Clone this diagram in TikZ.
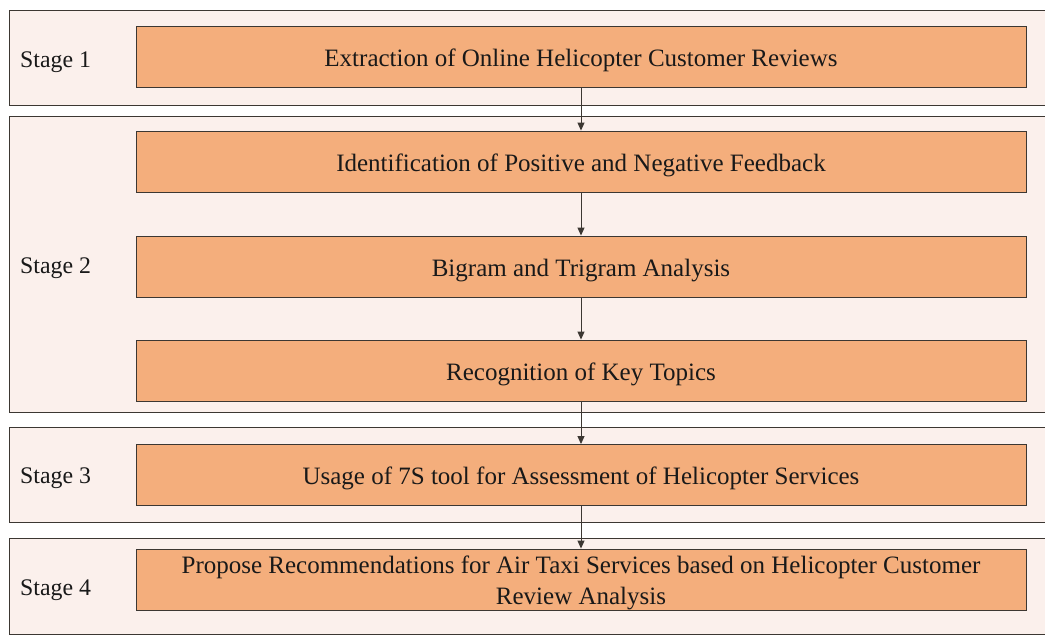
\documentclass[tikz,border=0pt]{standalone}
\usepackage{fontspec}
\setmainfont{Liberation Serif}
\usetikzlibrary{arrows.meta}
\definecolor{inner}{RGB}{244,174,124}
\definecolor{outer}{RGB}{251,240,236}
\definecolor{edge}{RGB}{60,55,50}
\newcommand{\lowtext}[1]{\raisebox{-9.5pt}[0pt][0pt]{#1}}
\begin{document}
\begin{tikzpicture}[x=1pt,y=-1pt,
  stagebox/.style={draw=edge,line width=1.1pt,fill=outer,inner sep=0pt,anchor=north west},
  procbox/.style={draw=edge,line width=0.9pt,fill=inner,inner sep=0pt,minimum width=890pt,minimum height=61pt,align=center,font=\fontsize{25}{31}\selectfont,text=black!90},
  stagelabel/.style={anchor=base west,inner sep=0pt,font=\fontsize{23.8}{28}\selectfont,text=black!90},
  flow/.style={draw=edge,line width=0.9pt,-{Triangle[length=8pt,width=7pt]}}]
\useasboundingbox (0,0) rectangle (1045,635);
\fill[white] (0,0) rectangle (1045,635);
\begin{scope}
\clip (0,0) rectangle (1045,635);
\node[stagebox,minimum width=1050pt,minimum height=95pt] (s1) at (9,10) {};
\node[stagebox,minimum width=1050pt,minimum height=296pt] (s2) at (9,116) {};
\node[stagebox,minimum width=1050pt,minimum height=95pt] (s3) at (9,427) {};
\node[stagebox,minimum width=1050pt,minimum height=96pt] (s4) at (9,538) {};
\end{scope}
\node[stagelabel] (l1) at (20,67) {Stage 1};
\node[stagelabel] (l2) at (20,273) {Stage 2};
\node[stagelabel] (l3) at (20,483) {Stage 3};
\node[stagelabel] (l4) at (20,595) {Stage 4};
\node[procbox] (b1) at (581,56.5) {\lowtext{Extraction of Online Helicopter Customer Reviews}};
\node[procbox] (b2) at (581,161.5) {\lowtext{Identification of Positive and Negative Feedback}};
\node[procbox] (b3) at (581,266.5) {\lowtext{Bigram and Trigram Analysis}};
\node[procbox] (b4) at (581,370.5) {\lowtext{Recognition of Key Topics}};
\node[procbox] (b5) at (581,475) {\lowtext{Usage of 7S tool for Assessment of Helicopter Services}};
\node[procbox] (b6) at (581,579.5) {\raisebox{6.5pt}[0pt][0pt]{\begin{tabular}[t]{@{}c@{}}Propose Recommendations for Air Taxi Services based on Helicopter Customer\\Review Analysis\end{tabular}}};
\draw[flow] (b1) -- (b2);
\draw[flow] (b2) -- (b3);
\draw[flow] (b3) -- (b4);
\draw[flow] (b4) -- (b5);
\draw[flow] (b5) -- (b6);
\end{tikzpicture}
\end{document}
